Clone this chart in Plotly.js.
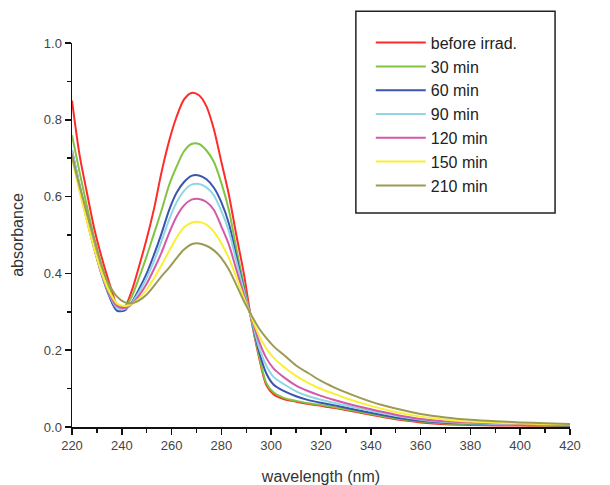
<!DOCTYPE html>
<html>
<head>
<meta charset="utf-8">
<script src="https://cdn.plot.ly/plotly-3.0.1.min.js"></script>
<style>html,body{margin:0;padding:0;background:#fff;}#chart{width:610px;height:485px;}</style>
</head>
<body>
<div id="chart"></div>
<script>
var wavelength = [220,223,226,229,232,235,238,241,244,247,250,253,256,259,262,265,268,271,274,277,280,283,286,289,292,295,298,301,305,310,315,320,325,330,340,350,360,370,380,390,400,410,420];

var seriesNames = ["before irrad.", "30 min", "60 min", "90 min", "120 min", "150 min", "210 min"];

var beforeIrrad = [0.85,0.71,0.61,0.515,0.44,0.375,0.32,0.312,0.355,0.42,0.49,0.57,0.665,0.745,0.808,0.853,0.870,0.864,0.835,0.775,0.69,0.605,0.50,0.40,0.28,0.185,0.11,0.085,0.073,0.066,0.060,0.055,0.050,0.044,0.032,0.020,0.012,0.007,0.005,0.004,0.004,0.003,0.002];
var min30 = [0.76,0.665,0.575,0.49,0.42,0.36,0.318,0.31,0.34,0.39,0.445,0.505,0.565,0.63,0.678,0.718,0.737,0.737,0.72,0.69,0.635,0.565,0.465,0.37,0.28,0.19,0.115,0.09,0.076,0.068,0.062,0.057,0.052,0.046,0.034,0.022,0.014,0.009,0.007,0.006,0.005,0.004,0.003];
var min60 = [0.72,0.63,0.545,0.465,0.395,0.34,0.303,0.303,0.325,0.36,0.40,0.45,0.505,0.565,0.61,0.638,0.654,0.655,0.645,0.623,0.585,0.53,0.445,0.36,0.283,0.20,0.14,0.11,0.094,0.080,0.070,0.063,0.057,0.050,0.037,0.025,0.016,0.011,0.009,0.007,0.006,0.005,0.004];
var min90 = [0.72,0.63,0.545,0.465,0.397,0.345,0.31,0.307,0.323,0.352,0.388,0.433,0.485,0.54,0.585,0.615,0.631,0.633,0.624,0.603,0.562,0.51,0.432,0.355,0.284,0.21,0.16,0.13,0.112,0.093,0.080,0.071,0.063,0.056,0.042,0.029,0.019,0.013,0.010,0.008,0.007,0.006,0.005];
var min120 = [0.71,0.62,0.538,0.462,0.397,0.347,0.315,0.31,0.32,0.343,0.373,0.412,0.455,0.505,0.548,0.577,0.592,0.594,0.586,0.565,0.522,0.475,0.41,0.345,0.286,0.225,0.18,0.152,0.130,0.108,0.093,0.081,0.071,0.062,0.046,0.032,0.021,0.015,0.012,0.010,0.008,0.007,0.006];
var min150 = [0.70,0.615,0.537,0.463,0.40,0.352,0.322,0.315,0.32,0.335,0.358,0.388,0.422,0.458,0.493,0.52,0.532,0.534,0.527,0.508,0.478,0.44,0.39,0.337,0.288,0.24,0.205,0.18,0.157,0.133,0.114,0.099,0.087,0.075,0.055,0.039,0.027,0.019,0.014,0.011,0.009,0.008,0.007];
var min210 = [0.705,0.628,0.557,0.487,0.417,0.37,0.34,0.325,0.322,0.33,0.345,0.368,0.393,0.415,0.44,0.462,0.476,0.478,0.472,0.46,0.44,0.41,0.37,0.328,0.292,0.258,0.232,0.21,0.188,0.16,0.14,0.12,0.104,0.09,0.066,0.048,0.034,0.025,0.019,0.015,0.012,0.010,0.008];

var xTickVals = [220,240,260,280,300,320,340,360,380,400,420];
var yTickVals = [0.0,0.2,0.4,0.6,0.8,1.0];

var allSeries = [beforeIrrad, min30, min60, min90, min120, min150, min210];
var colors = ["#ff2a2a", "#82c341", "#3a55b0", "#8fd6e3", "#d459a9", "#f7f035", "#9c9a55"];

var traces = allSeries.map(function (vals, i) {
  return {
    x: wavelength,
    y: vals,
    type: "scatter",
    mode: "lines",
    name: seriesNames[i],
    legendgroup: "g" + i,
    line: {color: colors[i], width: 2, shape: "spline", smoothing: 0.8}
  };
});

var font = "Liberation Sans, Arial, Helvetica, sans-serif";

var layout = {
  width: 610,
  height: 485,
  margin: {l: 72, r: 40, t: 43, b: 58},
  paper_bgcolor: "#ffffff",
  plot_bgcolor: "#ffffff",
  showlegend: true,
  font: {family: font, color: "#333333", size: 13},
  xaxis: {
    range: [220, 420],
    tickvals: xTickVals,
    ticktext: xTickVals.map(String),
    ticks: "outside",
    ticklen: 6,
    tickwidth: 1.5,
    tickcolor: "#111",
    showline: true,
    linecolor: "#111",
    linewidth: 1.5,
    showgrid: false,
    zeroline: false,
    tickfont: {family: font, size: 13, color: "#444"},
    minor: {dtick: 10, tick0: 220, ticks: "outside", ticklen: 4, tickwidth: 1.5, tickcolor: "#111", showgrid: false},
    title: {text: "wavelength (nm)", font: {family: font, size: 16, color: "#333"}, standoff: 20}
  },
  yaxis: {
    range: [0, 1.0],
    tickvals: yTickVals,
    ticktext: yTickVals.map(function (v) { return v.toFixed(1); }),
    ticks: "outside",
    ticklen: 6,
    tickwidth: 1.5,
    tickcolor: "#111",
    showline: true,
    linecolor: "#111",
    linewidth: 1.5,
    showgrid: false,
    zeroline: false,
    tickfont: {family: font, size: 13, color: "#444"},
    minor: {dtick: 0.1, tick0: 0, ticks: "outside", ticklen: 4, tickwidth: 1.5, tickcolor: "#111", showgrid: false},
    title: {text: "absorbance", font: {family: font, size: 16, color: "#333"}, standoff: 16}
  },
  legend: {
    x: 0.6,
    xanchor: "left",
    y: 1.045,
    yanchor: "top",
    bgcolor: "rgba(0,0,0,0)",
    borderwidth: 0,
    tracegroupgap: 0,
    traceorder: "grouped",
    itemwidth: 50,
    font: {family: font, size: 16, color: "#222"}
  },
  shapes: [{
    type: "rect", xref: "paper", yref: "paper",
    x0: 0.570, x1: 0.970, y0: 0.557, y1: 1.083,
    line: {color: "#222", width: 1.5},
    fillcolor: "rgba(0,0,0,0)",
    layer: "below"
  }]
};

Plotly.newPlot("chart", traces, layout, {displayModeBar: false, staticPlot: true});
</script>
</body>
</html>
